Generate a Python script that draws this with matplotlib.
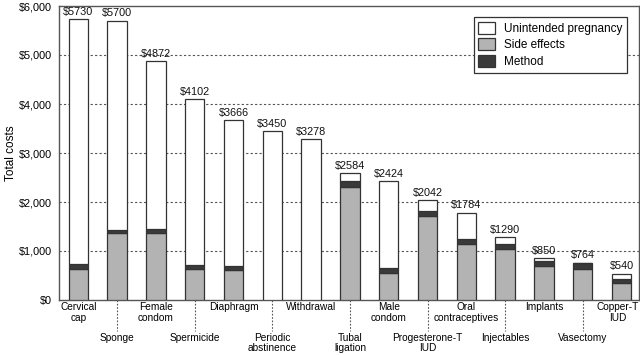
import matplotlib.pyplot as plt
from matplotlib.ticker import FuncFormatter
import matplotlib.transforms as mtransforms

plt.rcParams['font.family'] = ['Liberation Sans', 'DejaVu Sans']

# Data
methods = ['Cervical\ncap', 'Sponge', 'Female\ncondom', 'Spermicide', 'Diaphragm',
           'Periodic\nabstinence', 'Withdrawal', 'Tubal\nligation', 'Male\ncondom',
           'Progesterone-T\nIUD', 'Oral\ncontraceptives', 'Injectables', 'Implants',
           'Vasectomy', 'Copper-T\nIUD']
totals = [5730, 5700, 4872, 4102, 3666, 3450, 3278, 2584, 2424, 2042, 1784, 1290, 850, 764, 540]
side_effects = [630, 1370, 1370, 630, 605, 0, 0, 2315, 545, 1712, 1144, 1048, 685, 640, 342]
method_cost = [96, 68, 75, 75, 87, 0, 0, 117, 100, 103, 96, 103, 103, 124, 96]
unintended = [t - s - m for t, s, m in zip(totals, side_effects, method_cost)]

x = list(range(len(methods)))
edge = '#333333'

fig = plt.figure(figsize=(6.4, 3.55), dpi=100)
ax = fig.add_axes([59 / 640, 1 - 300 / 355, 580 / 640, 294 / 355])

w = 0.5
ax.bar(x, side_effects, w, color='#b3b3b3', edgecolor=edge, linewidth=0.9,
       label='Side effects', zorder=3)
ax.bar(x, method_cost, w, bottom=side_effects, color='#3a3a3a', edgecolor=edge,
       linewidth=0.9, label='Method', zorder=3)
bottoms = [s + m for s, m in zip(side_effects, method_cost)]
ax.bar(x, unintended, w, bottom=bottoms, color='white', edgecolor=edge,
       linewidth=0.9, label='Unintended pregnancy', zorder=3)

for xi, t in zip(x, totals):
    ax.text(xi, t + 45, '$%d' % t, ha='center', va='bottom', fontsize=7.8, color='#111111')

ax.set_xlim(-0.5, len(methods) - 0.55)
ax.set_ylim(0, 6000)
ax.set_yticks(range(0, 6001, 1000))
ax.yaxis.set_major_formatter(FuncFormatter(lambda v, p: '${:,.0f}'.format(v)))
ax.tick_params(axis='y', length=0, labelsize=7.8, pad=5)
ax.set_xticks([])
ax.set_ylabel('Total costs', fontsize=8.5)
ax.yaxis.set_label_coords(-0.072, 0.5)

for v in range(1000, 6000, 1000):
    ax.axhline(v, color='#555555', linestyle=(0, (2, 2)), linewidth=0.8, zorder=1)

for sp in ax.spines.values():
    sp.set_color('#555555')
    sp.set_linewidth(1.0)

# Staggered category labels
trans = mtransforms.blended_transform_factory(ax.transData, ax.transAxes)
for i, lab in enumerate(methods):
    xl = i - 0.1 if i == len(methods) - 1 else i
    if i % 2 == 0:
        ax.text(xl, -0.008, lab, transform=trans, ha='center', va='top',
                fontsize=7.3, linespacing=1.05)
    else:
        ax.plot([i, i], [0, -0.105], transform=trans, color='#555555',
                linestyle=(0, (1.5, 1.5)), linewidth=0.8, clip_on=False)
        ax.text(xl, -0.112, lab, transform=trans, ha='center', va='top',
                fontsize=7.3, linespacing=1.05)

handles, labels = ax.get_legend_handles_labels()
order = [2, 0, 1]
leg = ax.legend([handles[k] for k in order], [labels[k] for k in order],
                loc='upper right', bbox_to_anchor=(0.98, 0.963), borderaxespad=0,
                fontsize=8.5, fancybox=False, framealpha=1, edgecolor='#333333',
                handlelength=1.4, handleheight=1.2, borderpad=0.4, labelspacing=0.3)
leg.get_frame().set_linewidth(0.9)

fig.savefig('out.png', dpi=100)
